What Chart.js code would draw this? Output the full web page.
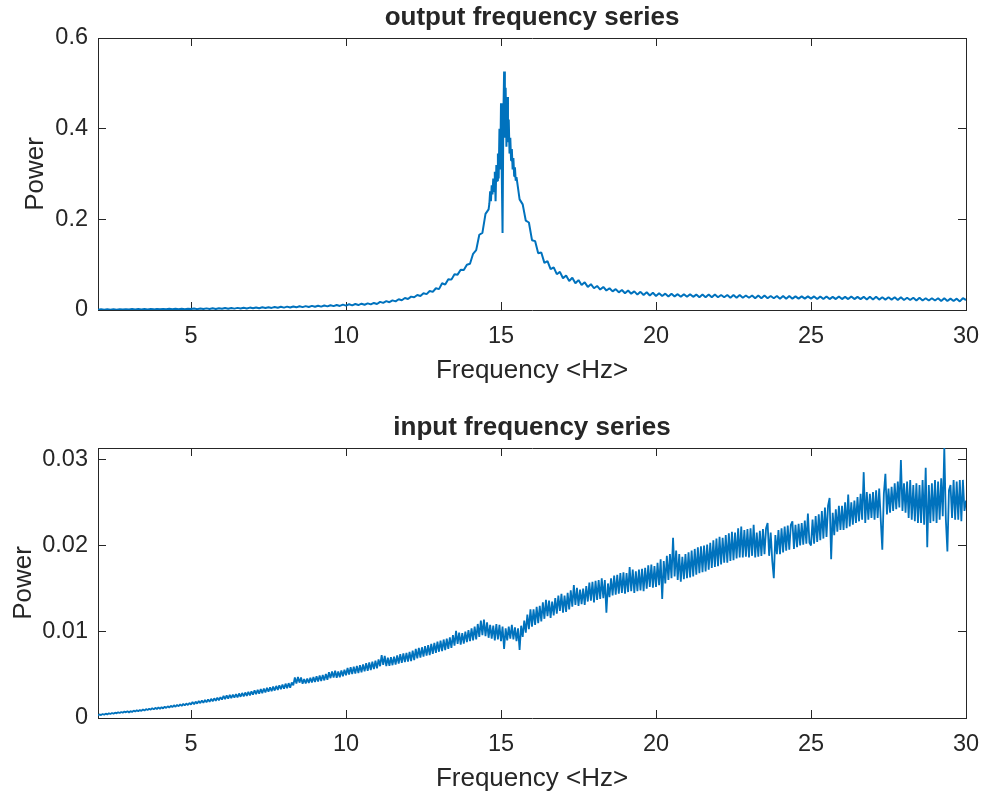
<!DOCTYPE html>
<html>
<head>
<meta charset="utf-8">
<script src="https://cdn.jsdelivr.net/npm/chart.js@4.4.1/dist/chart.umd.min.js"></script>
<style>
  html, body { margin: 0; padding: 0; background: #ffffff; }
  canvas { display: block; }
</style>
</head>
<body>
<canvas id="output-chart" width="984" height="397"></canvas>
<canvas id="input-chart" width="984" height="397"></canvas>
<script>
// frequency axis (Hz) and tick labels
const freqMin = 2;
const freqMax = 30;
const freqTicks = [5, 10, 15, 20, 25, 30];

const outputTicks = [0, 0.2, 0.4, 0.6];
const inputTicks = [0, 0.01, 0.02, 0.03];
const inputMax = 0.0313;

// output power
// 2.0 .. 14.6 Hz, every 0.1 Hz
const outLowStart = 2.0, outLowStep = 0.1;
const outLow = [
  0.0005, 0.0015, 0.0006, 0.0016, 0.0007, 0.0017, 0.0008, 0.0018, 0.0009, 0.0019,
  0.0010, 0.0020, 0.0011, 0.0021, 0.0012, 0.0022, 0.0013, 0.0023, 0.0014, 0.0024,
  0.0015, 0.0025, 0.0016, 0.0026, 0.0017, 0.0027, 0.0018, 0.0028, 0.0019, 0.0029,
  0.0020, 0.0033, 0.0019, 0.0035, 0.0021, 0.0036, 0.0022, 0.0039, 0.0024, 0.0040,
  0.0026, 0.0042, 0.0028, 0.0045, 0.0030, 0.0047, 0.0032, 0.0050, 0.0035, 0.0053,
  0.0038, 0.0056, 0.0040, 0.0059, 0.0043, 0.0062, 0.0046, 0.0066, 0.0050, 0.0070,
  0.0053, 0.0074, 0.0056, 0.0078, 0.0059, 0.0082, 0.0063, 0.0086, 0.0067, 0.0091,
  0.0071, 0.0095, 0.0075, 0.0100, 0.0080, 0.0105, 0.0085, 0.0111, 0.0090, 0.0118,
  0.0096, 0.0126, 0.0103, 0.0132, 0.0109, 0.0139, 0.0116, 0.0147, 0.0124, 0.0156,
  0.0133, 0.0180, 0.0158, 0.0195, 0.0172, 0.0212, 0.0190, 0.0238, 0.0216, 0.0264,
  0.0242, 0.0295, 0.0280, 0.0330, 0.0310, 0.0370, 0.0350, 0.0420, 0.0400, 0.0480,
  0.0460, 0.0590, 0.0560, 0.0680, 0.0670, 0.0790, 0.0780, 0.0890, 0.0880, 0.1000,
  0.1020, 0.1240, 0.1320, 0.1660, 0.1700, 0.2120, 0.2220
];
// 14.625 .. 15.475 Hz, every 0.025 Hz (resonance peak)
const outPeakStart = 14.625, outPeakStep = 0.025;
const outPeak = [
  0.235, 0.262, 0.240, 0.275, 0.255, 0.290, 0.262, 0.305, 0.240, 0.320,
  0.285, 0.345, 0.290, 0.400, 0.310, 0.456, 0.300, 0.170, 0.420, 0.526,
  0.380, 0.490, 0.360, 0.470, 0.370, 0.420, 0.345, 0.380, 0.330, 0.355,
  0.310, 0.335, 0.295, 0.315, 0.285
];
// 15.5 .. 30.0 Hz, every 0.1 Hz
const outHighStart = 15.5, outHighStep = 0.1;
const outHigh = [
  0.293, 0.244, 0.233, 0.197, 0.193,
  0.154, 0.152, 0.125, 0.127, 0.104, 0.108, 0.090, 0.094, 0.079, 0.084,
  0.070, 0.076, 0.064, 0.071, 0.059, 0.066, 0.055, 0.061, 0.051, 0.057,
  0.048, 0.053, 0.045, 0.051, 0.043, 0.048, 0.041, 0.046, 0.039, 0.044,
  0.037, 0.043, 0.036, 0.041, 0.034, 0.040, 0.033, 0.039, 0.032, 0.038,
  0.031, 0.037, 0.031, 0.036, 0.030, 0.036, 0.030, 0.035, 0.029, 0.035,
  0.029, 0.035, 0.029, 0.034, 0.028, 0.034, 0.028, 0.034, 0.028, 0.034,
  0.028, 0.033, 0.028, 0.033, 0.027, 0.033, 0.027, 0.033, 0.027, 0.032,
  0.027, 0.032, 0.026, 0.032, 0.026, 0.032, 0.026, 0.031, 0.026, 0.031,
  0.025, 0.031, 0.025, 0.031, 0.025, 0.030, 0.025, 0.030, 0.025, 0.030,
  0.025, 0.030, 0.024, 0.030, 0.024, 0.030, 0.024, 0.029, 0.024, 0.030,
  0.024, 0.029, 0.024, 0.030, 0.024, 0.029, 0.024, 0.029, 0.023, 0.029,
  0.023, 0.029, 0.023, 0.028, 0.023, 0.028, 0.023, 0.028, 0.022, 0.028,
  0.022, 0.027, 0.022, 0.027, 0.021, 0.027, 0.021, 0.026, 0.021, 0.026,
  0.021, 0.026, 0.020, 0.026, 0.020, 0.025, 0.020, 0.025, 0.019, 0.026,
  0.022
];

// input power, 2.00 .. 30.00 Hz every 0.05 Hz
// (one row per hertz)
const inStart = 2.0, inStep = 0.05;
const inPower = [
  0.00030, 0.00042, 0.00034, 0.00046, 0.00038, 0.00050, 0.00042, 0.00054, 0.00046, 0.00058, 0.00050, 0.00062, 0.00054, 0.00066, 0.00058, 0.00070, 0.00062, 0.00074, 0.00066, 0.00078,
  0.00064, 0.00080, 0.00070, 0.00086, 0.00074, 0.00090, 0.00078, 0.00094, 0.00082, 0.00100, 0.00086, 0.00104, 0.00092, 0.00108, 0.00096, 0.00114, 0.00100, 0.00118, 0.00104, 0.00124,
  0.00106, 0.00126, 0.00110, 0.00132, 0.00116, 0.00136, 0.00120, 0.00142, 0.00126, 0.00148, 0.00130, 0.00152, 0.00136, 0.00158, 0.00140, 0.00164, 0.00146, 0.00168, 0.00150, 0.00174,
  0.00156, 0.00186, 0.00160, 0.00190, 0.00166, 0.00198, 0.00172, 0.00204, 0.00176, 0.00210, 0.00182, 0.00216, 0.00188, 0.00222, 0.00194, 0.00228, 0.00200, 0.00236, 0.00206, 0.00242,
  0.00214, 0.00256, 0.00220, 0.00262, 0.00224, 0.00268, 0.00230, 0.00272, 0.00236, 0.00278, 0.00240, 0.00284, 0.00246, 0.00290, 0.00250, 0.00296, 0.00256, 0.00302, 0.00262, 0.00308,
  0.00270, 0.00322, 0.00276, 0.00328, 0.00282, 0.00336, 0.00288, 0.00342, 0.00296, 0.00350, 0.00304, 0.00356, 0.00310, 0.00364, 0.00318, 0.00372, 0.00326, 0.00380, 0.00334, 0.00388,
  0.00340, 0.00398, 0.00346, 0.00404, 0.00352, 0.00412, 0.00380, 0.00470, 0.00400, 0.00476, 0.00410, 0.00470, 0.00396, 0.00452, 0.00400, 0.00458, 0.00406, 0.00466, 0.00412, 0.00474,
  0.00418, 0.00484, 0.00424, 0.00492, 0.00430, 0.00500, 0.00436, 0.00510, 0.00444, 0.00530, 0.00462, 0.00540, 0.00470, 0.00548, 0.00466, 0.00538, 0.00472, 0.00552, 0.00484, 0.00560,
  0.00496, 0.00580, 0.00504, 0.00590, 0.00508, 0.00596, 0.00514, 0.00604, 0.00520, 0.00612, 0.00530, 0.00622, 0.00540, 0.00636, 0.00548, 0.00644, 0.00556, 0.00652, 0.00566, 0.00664,
  0.00576, 0.00680, 0.00600, 0.00730, 0.00616, 0.00720, 0.00602, 0.00700, 0.00606, 0.00704, 0.00612, 0.00712, 0.00618, 0.00726, 0.00632, 0.00740, 0.00640, 0.00748, 0.00648, 0.00756,
  0.00654, 0.00766, 0.00660, 0.00780, 0.00672, 0.00800, 0.00690, 0.00812, 0.00700, 0.00820, 0.00712, 0.00832, 0.00722, 0.00846, 0.00730, 0.00858, 0.00744, 0.00872, 0.00756, 0.00884,
  0.00768, 0.00898, 0.00776, 0.00910, 0.00788, 0.00920, 0.00800, 0.00936, 0.00812, 0.00960, 0.00840, 0.01010, 0.00860, 0.00990, 0.00850, 0.00984, 0.00862, 0.01000, 0.00880, 0.01018,
  0.00890, 0.01040, 0.00900, 0.01060, 0.00912, 0.01090, 0.00940, 0.01130, 0.00960, 0.01140, 0.00950, 0.01110, 0.00930, 0.01080, 0.00920, 0.01070, 0.00900, 0.01090, 0.00910, 0.01080,
  0.00890, 0.01060, 0.00800, 0.01040, 0.00900, 0.01060, 0.00920, 0.01080, 0.00910, 0.01050, 0.00890, 0.01040, 0.00790, 0.01070, 0.00940, 0.01130, 0.00990, 0.01200, 0.01030, 0.01260,
  0.01060, 0.01260, 0.01080, 0.01290, 0.01100, 0.01300, 0.01120, 0.01340, 0.01150, 0.01370, 0.01180, 0.01360, 0.01160, 0.01350, 0.01190, 0.01390, 0.01210, 0.01420, 0.01240, 0.01440,
  0.01220, 0.01420, 0.01230, 0.01450, 0.01260, 0.01480, 0.01290, 0.01540, 0.01310, 0.01510, 0.01300, 0.01490, 0.01320, 0.01500, 0.01310, 0.01530, 0.01350, 0.01570, 0.01360, 0.01580,
  0.01340, 0.01590, 0.01370, 0.01600, 0.01380, 0.01620, 0.01390, 0.01600, 0.01220, 0.01560, 0.01400, 0.01620, 0.01420, 0.01650, 0.01430, 0.01660, 0.01440, 0.01680, 0.01450, 0.01690,
  0.01440, 0.01680, 0.01460, 0.01750, 0.01470, 0.01720, 0.01450, 0.01700, 0.01470, 0.01720, 0.01480, 0.01730, 0.01470, 0.01740, 0.01500, 0.01770, 0.01520, 0.01780, 0.01510, 0.01760,
  0.01520, 0.01800, 0.01540, 0.01840, 0.01380, 0.01820, 0.01560, 0.01880, 0.01600, 0.01900, 0.01620, 0.02090, 0.01640, 0.01940, 0.01600, 0.01900, 0.01580, 0.01870, 0.01610, 0.01900,
  0.01620, 0.01920, 0.01630, 0.01940, 0.01640, 0.01960, 0.01660, 0.01980, 0.01680, 0.01990, 0.01690, 0.02000, 0.01700, 0.02010, 0.01720, 0.02030, 0.01740, 0.02060, 0.01750, 0.02080,
  0.01760, 0.02100, 0.01780, 0.02090, 0.01800, 0.02120, 0.01800, 0.02140, 0.01820, 0.02160, 0.01830, 0.02150, 0.01850, 0.02200, 0.01860, 0.02220, 0.01860, 0.02180, 0.01870, 0.02190,
  0.01860, 0.02200, 0.01880, 0.02240, 0.01860, 0.02150, 0.01870, 0.02170, 0.01880, 0.02190, 0.01900, 0.02200, 0.02260, 0.01880, 0.02150, 0.01820, 0.01620, 0.02120, 0.01900, 0.02180,
  0.01900, 0.02200, 0.01920, 0.02220, 0.01940, 0.02230, 0.01950, 0.02240, 0.02280, 0.01960, 0.02240, 0.01980, 0.02250, 0.02000, 0.02260, 0.02010, 0.02290, 0.02020, 0.02370, 0.02030,
  0.02000, 0.02300, 0.02020, 0.02340, 0.02040, 0.02360, 0.02060, 0.02400, 0.02080, 0.02440, 0.02100, 0.02460, 0.02550, 0.01840, 0.02380, 0.02120, 0.02420, 0.02160, 0.02460, 0.02180,
  0.02460, 0.02180, 0.02500, 0.02200, 0.02590, 0.02220, 0.02500, 0.02240, 0.02520, 0.02260, 0.02560, 0.02280, 0.02600, 0.02300, 0.02850, 0.02260, 0.02620, 0.02300, 0.02600, 0.02320,
  0.02620, 0.02300, 0.02640, 0.02320, 0.02660, 0.02300, 0.01950, 0.02600, 0.02830, 0.02360, 0.02660, 0.02380, 0.02680, 0.02400, 0.02720, 0.02420, 0.02740, 0.02440, 0.02990, 0.02400,
  0.02720, 0.02380, 0.02740, 0.02320, 0.02760, 0.02300, 0.02700, 0.02280, 0.02720, 0.02260, 0.02700, 0.02260, 0.02760, 0.02240, 0.02900, 0.01980, 0.02700, 0.02260, 0.02720, 0.02280,
  0.02760, 0.02260, 0.02740, 0.02300, 0.02780, 0.02340, 0.03140, 0.02300, 0.01930, 0.02640, 0.02700, 0.02320, 0.02760, 0.02300, 0.02740, 0.02300, 0.02760, 0.02280, 0.02760, 0.02400,
  0.02520
];

function toPoints(start, step, values) {
  return values.map((v, i) => ({ x: +(start + i * step).toFixed(3), y: v }));
}

const outputPoints = [].concat(
  toPoints(outLowStart, outLowStep, outLow),
  toPoints(outPeakStart, outPeakStep, outPeak),
  toPoints(outHighStart, outHighStep, outHigh)
);
const inputPoints = toPoints(inStart, inStep, inPower);

const FONT = "'Liberation Sans', Arial, Helvetica, sans-serif";
const INK = '#262626';
const LINE = '#0072BD';

function fixTicks(values) {
  return (scale) => { scale.ticks = values.map(v => ({ value: v })); };
}

function makeChart(canvasId, title, points, yMax, yTicks, lay) {
  const ctx = document.getElementById(canvasId).getContext('2d');
  const innerGrid = {
    drawOnChartArea: false,
    drawTicks: true,
    tickLength: -8,
    color: INK,
    lineWidth: 1
  };
  const border = { display: true, color: INK, width: 1 };

  return new Chart(ctx, {
    type: 'line',
    data: {
      datasets: [{
        data: points,
        borderColor: LINE,
        borderWidth: lay.lineWidth,
        borderJoinStyle: 'bevel',
        pointRadius: 0,
        fill: false,
        tension: 0
      }]
    },
    options: {
      responsive: false,
      animation: false,
      events: [],
      layout: { padding: { left: 0, right: 18, top: 0, bottom: 0 } },
      plugins: {
        legend: { display: false },
        tooltip: { enabled: false },
        title: {
          display: true,
          text: title,
          fullSize: false,
          color: INK,
          font: { family: FONT, size: 26, weight: 'bold' },
          padding: { top: lay.titleTop, bottom: lay.titleBottom }
        }
      },
      scales: {
        x: {
          type: 'linear',
          position: 'bottom',
          min: freqMin,
          max: freqMax,
          afterBuildTicks: fixTicks(freqTicks),
          afterFit: (s) => {
            s.height = lay.xHeight;
            // the "30" label may hang past the plot edge, as in the original
            s.paddingLeft = 0;
            s.paddingRight = 0;
          },
          grid: innerGrid,
          border: border,
          ticks: {
            color: INK,
            padding: 20,
            maxRotation: 0,
            autoSkip: false,
            font: { family: FONT, size: 23.5 },
            callback: (v) => String(v)
          },
          title: {
            display: true,
            text: 'Frequency <Hz>',
            color: INK,
            font: { family: FONT, size: 26 },
            padding: { top: 0, bottom: lay.xTitleBottom }
          }
        },
        x2: {
          type: 'linear',
          position: 'top',
          min: freqMin,
          max: freqMax,
          afterBuildTicks: fixTicks(freqTicks),
          afterFit: (s) => { s.height = 0; },
          grid: innerGrid,
          border: border,
          ticks: { display: false }
        },
        y: {
          type: 'linear',
          position: 'left',
          min: 0,
          max: yMax,
          afterBuildTicks: fixTicks(yTicks),
          afterFit: (s) => { s.width = 98; },
          grid: innerGrid,
          border: border,
          ticks: {
            color: INK,
            padding: 18,
            autoSkip: false,
            font: { family: FONT, size: 23.5 },
            callback: (v) => String(v)
          },
          title: {
            display: true,
            text: 'Power',
            color: INK,
            font: { family: FONT, size: 26 },
            padding: { top: lay.yTitleTop, bottom: 0 }
          }
        },
        y2: {
          type: 'linear',
          position: 'right',
          min: 0,
          max: yMax,
          afterBuildTicks: fixTicks(yTicks),
          afterFit: (s) => { s.width = 0; },
          grid: innerGrid,
          border: border,
          ticks: { display: false }
        }
      }
    }
  });
}

makeChart('output-chart', 'output frequency series', outputPoints, 0.6, outputTicks,
  { titleTop: 2.7, titleBottom: 4.1, xHeight: 87, xTitleBottom: 10.4, yTitleTop: 20.4, lineWidth: 2 });
makeChart('input-chart', 'input frequency series', inputPoints, inputMax, inputTicks,
  { titleTop: 15.7, titleBottom: 4.1, xHeight: 76, xTitleBottom: 0, yTitleTop: 8.7, lineWidth: 1.8 });
</script>
</body>
</html>
